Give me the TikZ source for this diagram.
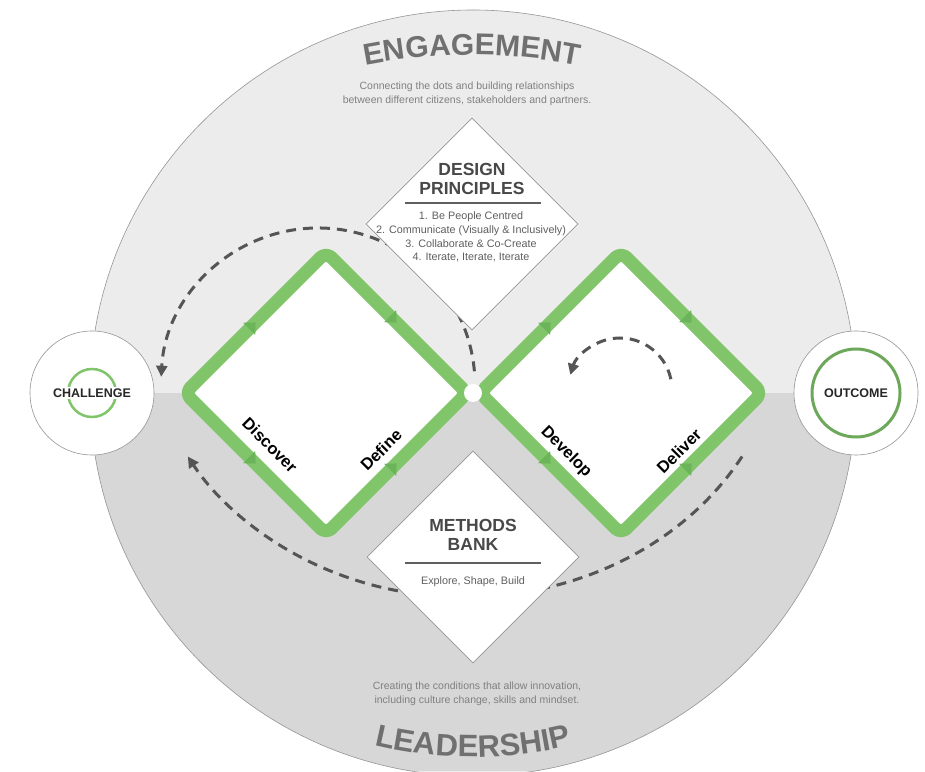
\documentclass[tikz,border=0pt]{standalone}
\usepackage{fontspec}
\setmainfont{Liberation Sans}
\usetikzlibrary{shapes.geometric,decorations.text,decorations.markings,arrows.meta}
\definecolor{bgup}{RGB}{236,236,236}
\definecolor{bglow}{RGB}{215,215,215}
\definecolor{rim}{RGB}{150,150,150}
\definecolor{grn}{RGB}{128,197,106}
\definecolor{grndark}{RGB}{108,180,90}
\definecolor{dashc}{RGB}{85,85,85}
\definecolor{headtxt}{RGB}{112,112,112}
\definecolor{subtxt}{RGB}{128,128,128}
\definecolor{boxhead}{RGB}{72,72,72}
\definecolor{boxtxt}{RGB}{95,95,95}
\begin{document}
\begin{tikzpicture}[x=1pt,y=1pt,
  phase/.style={draw=grn, line width=13pt, rounded corners=8pt, fill=white, line join=round},
  flowdash/.style={draw=dashc, line width=3pt, dash pattern=on 10pt off 7pt, -{Triangle[length=11pt,width=11pt]}},
  infobox/.style={diamond, aspect=1, draw=rim, line width=0.7pt, fill=white, minimum width=212pt, minimum height=212pt, inner sep=0pt},
  boxtitle/.style={font=\fontsize{17.5}{18.5}\selectfont\bfseries, text=boxhead, align=center},
  boxlist/.style={font=\fontsize{10.8}{13.7}\selectfont, text=boxtxt, align=center},
  phaselabel/.style={font=\fontsize{16.5}{18}\selectfont\bfseries, text=black},
  endcircle/.style={circle, draw=rim, line width=0.6pt, fill=white, minimum size=124pt, inner sep=0pt},
  endlabel/.style={font=\fontsize{12.5}{14}\selectfont\bfseries, text=black!85, inner sep=2pt},
  subline/.style={font=\fontsize{10.5}{14}\selectfont, text=subtxt, align=center},
  midarrows/.style={postaction={decorate}, decoration={markings,
     mark=at position 0.25 with {\arrow[grndark]{Triangle[length=9pt,width=17pt]}},
     mark=at position 0.75 with {\arrow[grndark]{Triangle[length=9pt,width=17pt]}}}}
]
\useasboundingbox (0,0) rectangle (925,771);
\fill[white] (0,0) rectangle (925,771);
% big circle
\coordinate (hub) at (473,378);
\fill[bgup] (hub) circle (383pt);
\begin{scope}
 \clip (hub) circle (383pt);
 \fill[bglow] (0,0) rectangle (925,378);
\end{scope}
\draw[rim, line width=0.6pt] (hub) circle (383pt);

% headings
\path[decorate, decoration={text along path, text align=center, text color=headtxt,
  text={|\fontsize{30}{30}\selectfont\bfseries|ENGAGEMENT}}]
  (472,166) ++(120:550pt) arc[start angle=120, end angle=60, radius=550pt];
\path[decorate, decoration={text along path, text align=center, text color=headtxt,
  text={|\fontsize{31}{31}\selectfont\bfseries|LEADERSHIP}}]
  (473,434) ++(240:420pt) arc[start angle=240, end angle=300, radius=420pt];
\node[subline] (engsub) at (467,677) {Connecting the dots and building relationships\\between different citizens, stakeholders and partners.};
\node[subline] (leadsub) at (477,77) {Creating the conditions that allow innovation,\\including culture change, skills and mindset.};

% end circles
\node[endcircle] (chal) at (92,378) {};
\draw[grn, line width=2.5pt] (chal.center) circle (24pt);
\node[endlabel, fill=white] (chaltxt) at (chal.center) {CHALLENGE};
\node[endcircle] (outc) at (856,378) {};
\draw[grn!85!black, line width=3pt] (outc.center) circle (44pt);
\node[endlabel] (outtxt) at (outc.center) {OUTCOME};

% green diamonds
\coordinate (aL) at (185,378); \coordinate (aT) at (326,519);
\coordinate (aR) at (467,378); \coordinate (aB) at (326,237);
\coordinate (bL) at (480,378); \coordinate (bT) at (621,519);
\coordinate (bR) at (762,378); \coordinate (bB) at (621,237);
\draw[phase] (aL) -- (aT) -- (aR) -- (aB) -- cycle;
\draw[phase] (bL) -- (bT) -- (bR) -- (bB) -- cycle;
\path[midarrows] (aL) -- (aT) -- (aR);
\path[midarrows] (aL) -- (aB) -- (aR);
\path[midarrows] (bL) -- (bT) -- (bR);
\path[midarrows] (bL) -- (bB) -- (bR);
\fill[white] (hub) circle (9pt);

% dashed loops
\coordinate (ulstart) at (474.4,399.7);
\draw[flowdash] (ulstart) arc[start angle=5, end angle=177, radius=157pt];
\coordinate (lowstart) at (742.1,314.5);
\draw[flowdash] (lowstart) arc[start angle=-30, end angle=-150, x radius=320pt, y radius=281pt];
\coordinate (smstart) at (670.9,391.8);
\draw[flowdash] (smstart) arc[start angle=12, end angle=163, radius=52pt];

% info diamonds
\node[infobox] (dp) at (472,547) {};
\node[infobox] (mb) at (473,214) {};
\node[boxtitle] (dptitle) at (472,592) {DESIGN\\PRINCIPLES};
\draw[boxtxt, line width=1.2pt] (405,568) -- (541,568);
\node[boxlist] (dplist) at (471,534) {1. Be People Centred\\2. Communicate (Visually \& Inclusively)\\3. Collaborate \& Co-Create\\4. Iterate, Iterate, Iterate};
\node[boxtitle] (mbtitle) at (473,236) {METHODS\\BANK};
\draw[boxtxt, line width=1.2pt] (405,208) -- (541,208);
\node[boxlist] (mblist) at (473,189) {Explore, Shape, Build};

% phase labels
\node[phaselabel, rotate=-45] (disc) at (270,326) {Discover};
\node[phaselabel, rotate=45] (defi) at (381,321) {Define};
\node[phaselabel, rotate=-45] (devl) at (566,319) {Develop};
\node[phaselabel, rotate=45] (delv) at (679,320) {Deliver};
\end{tikzpicture}
\end{document}
